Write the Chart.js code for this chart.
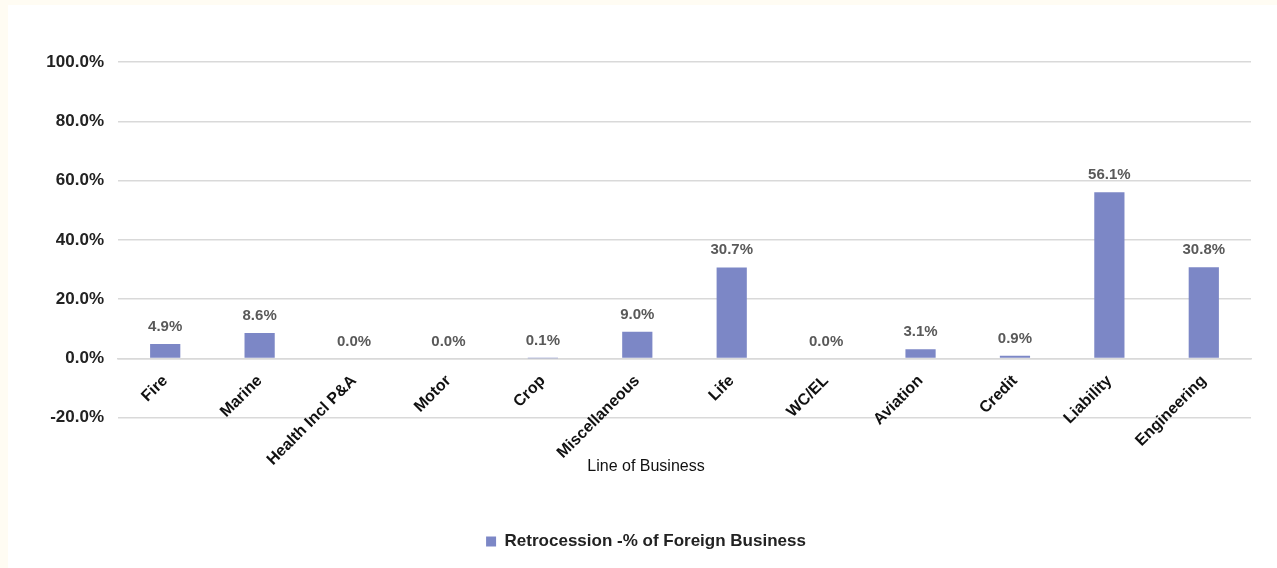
<!DOCTYPE html>
<html>
<head>
<meta charset="utf-8">
<script src="https://cdn.jsdelivr.net/npm/chart.js@4"></script>
<style>
html, body { margin: 0; padding: 0; background: #fffcf3; }
#wrap { position: absolute; left: 8px; top: 5px; width: 1269px; height: 563px; background: #fff; }
</style>
</head>
<body>
<div id="wrap"><canvas id="chart"></canvas></div>
<script>
const categories = ['Fire', 'Marine', 'Health Incl P&A', 'Motor', 'Crop', 'Miscellaneous',
    'Life', 'WC/EL', 'Aviation', 'Credit', 'Liability', 'Engineering'];
const retrocession = [4.9, 8.6, 0.0, 0.0, 0.1, 9.0, 30.7, 0.0, 3.1, 0.9, 56.1, 30.8];
const yMin = -20;
const yMax = 100;
const yStep = 20;

const FONT = '"Liberation Sans", Arial, sans-serif';
Chart.defaults.font.family = FONT;

// value text above each bar
const barLabels = {
    id: 'barLabels',
    afterDatasetsDraw(chart) {
        const ctx = chart.ctx;
        const meta = chart.getDatasetMeta(0);
        ctx.save();
        ctx.font = 'bold 15px ' + FONT;
        ctx.fillStyle = '#595959';
        ctx.textAlign = 'center';
        ctx.textBaseline = 'alphabetic';
        meta.data.forEach((bar, i) => {
            ctx.fillText(retrocession[i].toFixed(1) + '%', bar.x, bar.y - 13);
        });
        ctx.restore();
    }
};

new Chart(document.getElementById('chart'), {
    type: 'bar',
    data: {
        labels: categories,
        datasets: [{
            label: 'Retrocession -% of Foreign Business',
            data: retrocession,
            backgroundColor: '#7c87c6',
            barPercentage: 0.4,
            categoryPercentage: 0.8
        }]
    },
    plugins: [barLabels],
    options: {
        responsive: true,
        maintainAspectRatio: false,
        animation: false,
        layout: {
            padding: { left: 33, right: 26, top: 57, bottom: 8 }
        },
        plugins: {
            // axis caption sits under the rotated labels, above the legend
            title: {
                display: true,
                position: 'bottom',
                weight: 500,
                text: 'Line of Business',
                color: '#111',
                font: { size: 16, weight: 'normal' },
                padding: { top: 39, bottom: 47 }
            },
            legend: {
                position: 'bottom',
                labels: {
                    boxWidth: 10,
                    boxHeight: 10,
                    color: '#222',
                    font: { size: 17, weight: 'bold' }
                }
            },
            tooltip: { enabled: false }
        },
        scales: {
            x: {
                position: { y: 0 },
                grid: { display: false, drawTicks: false },
                border: { color: '#d9d9d9', width: 1.5 },
                ticks: {
                    minRotation: 45,
                    maxRotation: 45,
                    padding: 13,
                    color: '#111',
                    font: { size: 16, weight: 'bold' }
                }
            },
            y: {
                min: yMin,
                max: yMax,
                afterFit: scale => { scale.width = 77; },
                ticks: {
                    stepSize: yStep,
                    padding: 14,
                    color: '#222',
                    font: { size: 17, weight: 'bold' },
                    callback: v => v.toFixed(1) + '%'
                },
                grid: { color: '#d9d9d9', lineWidth: 1.5, drawTicks: false },
                border: { display: false }
            }
        }
    }
});
</script>
</body>
</html>
